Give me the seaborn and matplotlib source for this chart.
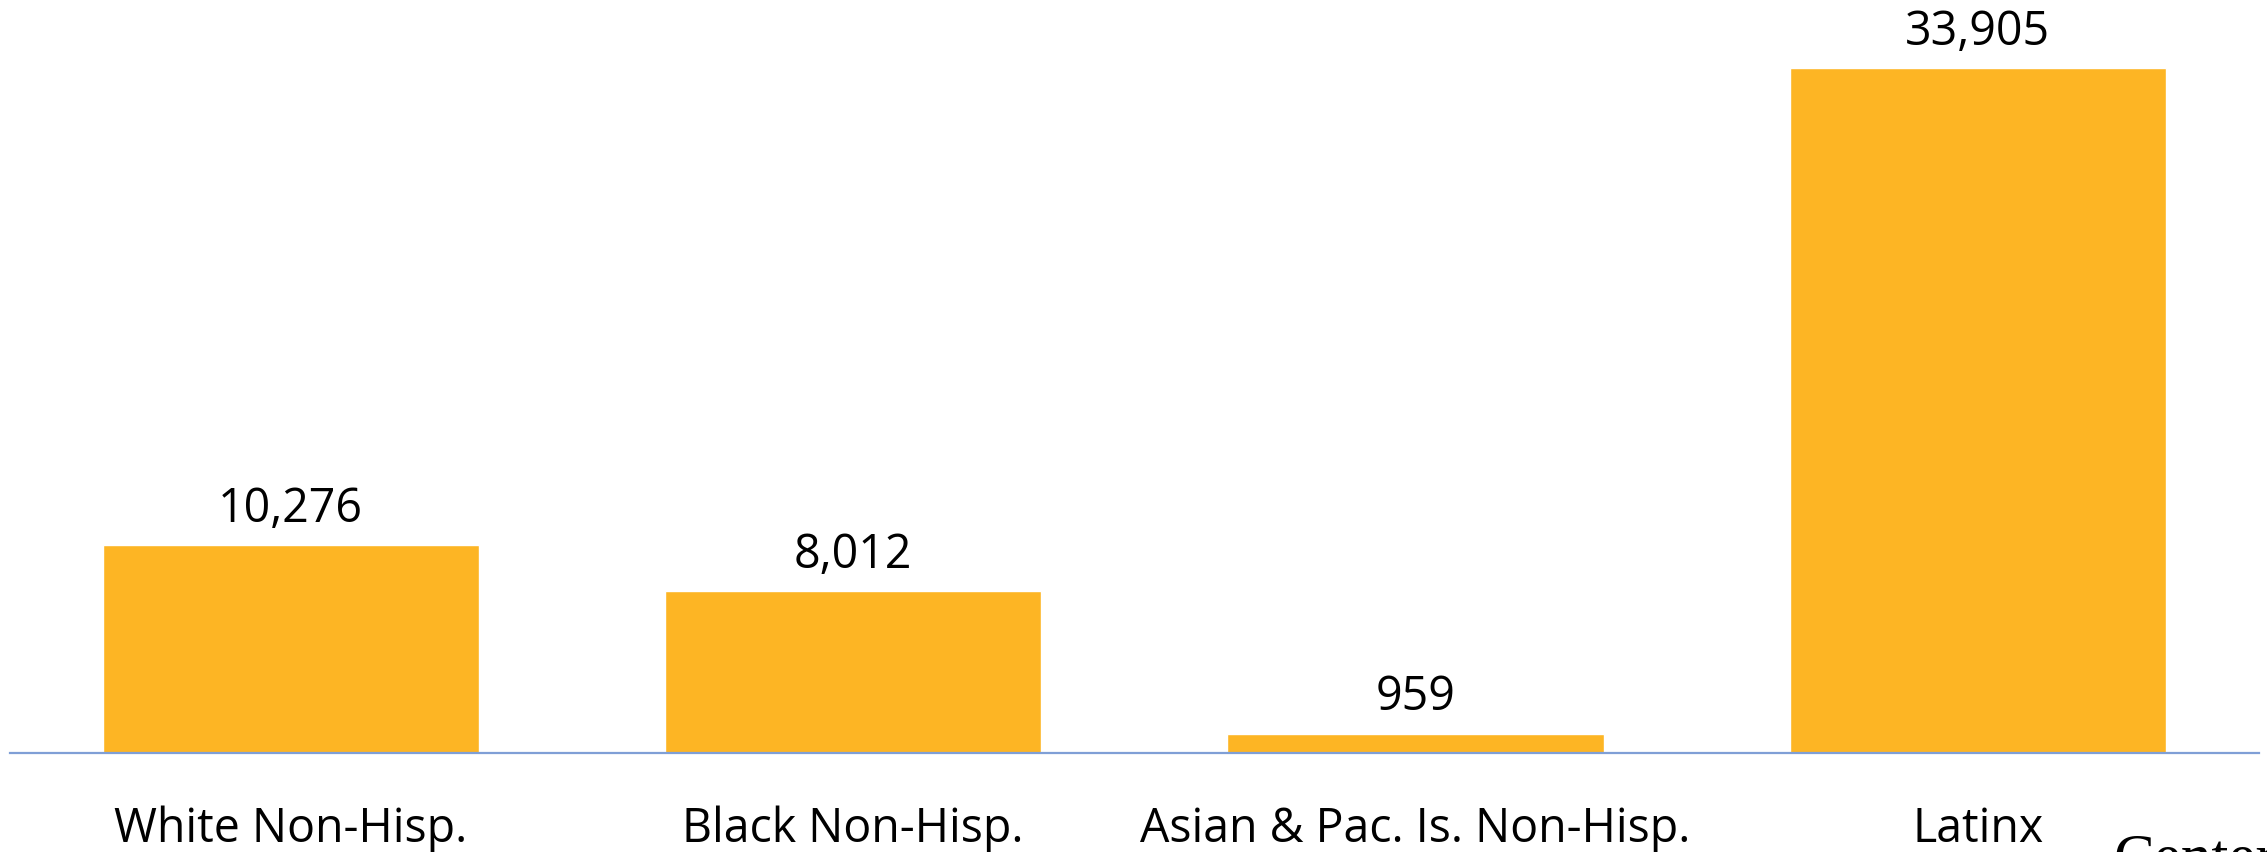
import matplotlib.pyplot as plt
import seaborn as sns
import pandas as pd

groups = ["White Non-Hisp.", "Black Non-Hisp.", "Asian & Pac. Is. Non-Hisp.", "Latinx"]
counts = [10276, 8012, 959, 33905]
labels = ["10,276", "8,012", "959", "33,905"]

df = pd.DataFrame({"group": groups, "count": counts})

sns.set_style("white")
plt.rcParams["font.family"] = ["Open Sans", "DejaVu Sans"]

fig = plt.figure(figsize=(22.67, 8.52), dpi=100)
ax = fig.add_axes([9.5 / 2267, 99 / 852, 2249.5 / 2267, 753 / 852])

sns.barplot(data=df, x="group", y="count", color="#FDB524", saturation=1,
            width=0.669, ax=ax)

ax.set_xlim(-0.5, 3.5)
ax.set_ylim(0, 37290)
for i, (v, lab) in enumerate(zip(counts, labels)):
    ax.annotate(lab, (i, v), xytext=(0, 9), textcoords="offset points",
                ha="center", va="bottom", fontsize=33.5, color="black")

for side in ["top", "left", "right"]:
    ax.spines[side].set_visible(False)
ax.spines["bottom"].set_color("#7F9FD6")
ax.spines["bottom"].set_linewidth(1.6)
ax.set_yticks([])
ax.set_xlabel("")
ax.set_ylabel("")
ax.tick_params(axis="x", length=0, labelsize=33.5, pad=38, labelcolor="black")

# source note running off the bottom-right corner, as in the original
fig.text(2113 / 2267, 0.022, "Center", family=["Liberation Serif", "DejaVu Serif"],
         fontsize=44, ha="left", va="top", color="black")

fig.savefig("out.png", dpi=100)
